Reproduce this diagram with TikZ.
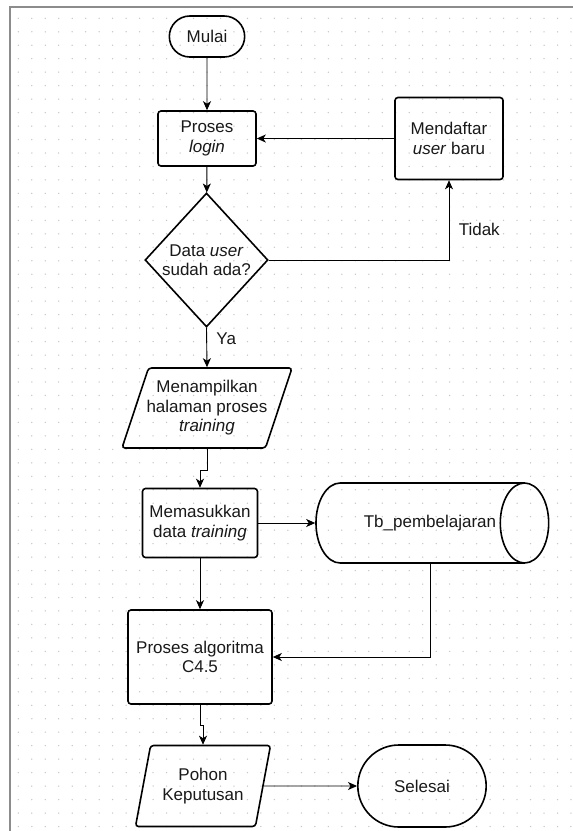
\documentclass[tikz,border=0pt]{standalone}
\usepackage{fontspec}
\setmainfont{Liberation Sans}
\usetikzlibrary{shapes.geometric,shapes.misc,arrows.meta}

\begin{document}
\begin{tikzpicture}[x=1pt, y=-1pt, >={Stealth[length=9pt,width=8pt,inset=2.5pt]},
    font=\fontsize{17}{19.5}\selectfont, text=black!90,
    box/.style={draw, line width=1.6pt, rounded corners=3pt, align=center, inner sep=2pt},
    term/.style={draw, line width=1.6pt, rounded rectangle, align=center},
    io/.style={draw, line width=1.6pt, trapezium, trapezium stretches body=true, rounded corners=3pt, align=center, inner ysep=1pt},
    flow/.style={line width=0.9pt, ->}]
    % canvas and dotted grid
    \useasboundingbox (0,0) rectangle (573,831);
    \fill[white] (0,0) rectangle (573,831);
    \foreach \i in {0,...,41} \foreach \j in {0,...,60}
        \fill[black!22] (18.3+13.48*\i, 18.3+13.47*\j) circle (0.75);
    \draw[black!45, line width=1.5pt] (10,840) -- (10,7) -- (580,7);
    % flowchart nodes
    \node[term, minimum width=82, minimum height=41] (mulai) at (207,36.5) {Mulai};
    \node[box, minimum width=98, minimum height=55] (login) at (207,138.5) {Proses\\\textit{login}};
    \node[box, minimum width=108, minimum height=82] (daftar) at (449,138.5) {Mendaftar\\\textit{user} baru};
    \node[draw, diamond, line width=1.6pt, minimum width=123, minimum height=134, inner sep=-6pt, align=center] (cek) at (206.5,260) {Data \textit{user}\\sudah ada?};
    \node[io, trapezium left angle=65, trapezium right angle=115, inner xsep=-12pt, minimum width=170, minimum height=80] (tampil) at (207,408) {Menampilkan\\halaman proses\\\textit{training}};
    \node[box, minimum width=115, minimum height=69] (masuk) at (200,523) {Memasukkan\\data \textit{training}};
    \node[draw, cylinder, line width=1.6pt, aspect=2.15, minimum width=80, minimum height=230] (tbl) at (415,523) {\hspace*{30pt}Tb\_pembelajaran};
    \node[box, minimum width=144, minimum height=94] (algo) at (200,657) {Proses algoritma\\C4.5};
    \node[io, trapezium left angle=68, trapezium right angle=112, inner xsep=-5pt, minimum width=135, minimum height=81] (pohon) at (203,786) {Pohon\\Keputusan};
    \node[term, minimum width=135, minimum height=82] (selesai) at (422,786) {Selesai};
    % connectors
    \draw[flow] (mulai) -- (login);
    \draw[flow] (login) -- (cek);
    \draw[flow] (daftar) -- (login);
    \draw[flow] (cek.east) -| node[pos=0.69, right=6pt] {Tidak} (daftar.south);
    \draw[flow] (cek.south) -- node[pos=0.27, right=6pt] {Ya} (tampil.north);
    \draw[flow] (tampil.south) -- ++(0,22) -| (masuk.north);
    \draw[flow] (masuk) -- (tbl);
    \draw[flow] ([xshift=15pt]tbl.south) |- (algo.east);
    \draw[flow] (masuk) -- (algo);
    \draw[flow] (algo.south) -- ++(0,21) -| (pohon.north);
    \draw[flow] (pohon) -- (selesai);
\end{tikzpicture}
\end{document}
